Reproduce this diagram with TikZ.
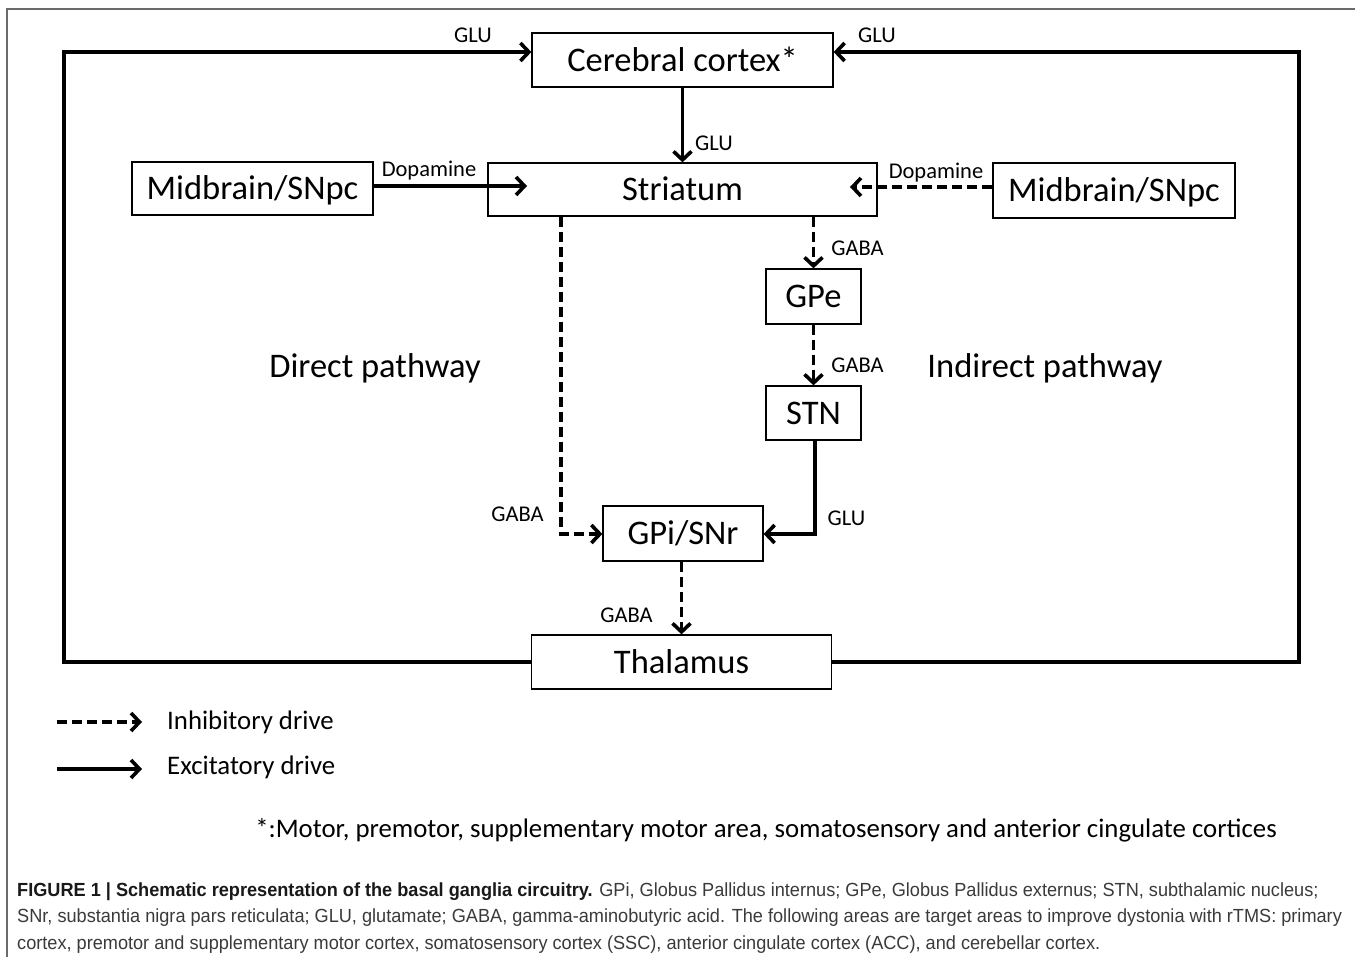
\documentclass[tikz,border=0pt]{standalone}
\usepackage{fontspec}
\setmainfont{Carlito}
\newfontfamily\capfont[FakeStretch=0.955]{Liberation Sans}
\usetikzlibrary{arrows.meta}
\definecolor{capgray}{HTML}{3A3A3A}
\definecolor{framegray}{HTML}{6A6A6A}
\begin{document}
\begin{tikzpicture}[x=1pt,y=-1pt,
  box/.style={draw, line width=1.3pt, inner sep=0pt, text height=25.6pt, text depth=3.4pt,
    font=\fontsize{34.5}{38}\selectfont},
  lab/.style={inner sep=0pt, text height=14.5pt, text depth=0pt, font=\fontsize{22.5}{26}\selectfont},
  big/.style={inner sep=0pt, text height=22.2pt, text depth=0pt, font=\fontsize{34.5}{38}\selectfont},
  leg/.style={inner sep=0pt, anchor=west, text height=17.3pt, text depth=0pt, font=\fontsize{26.8}{30}\selectfont},
  exc/.style={line width=3.6pt, -{Straight Barb[length=8.5pt,width=18pt]}},
  inh/.style={exc, dash pattern=on 10pt off 5pt},
  capline/.style={inner sep=0pt, anchor=base west, text=capgray, font=\capfont\fontsize{19}{22}\selectfont}]
\useasboundingbox (0,0) rectangle (1355,957);
% frame
\draw[framegray, line width=1.5pt] (7,957) -- (7,9) -- (1355,9);
% boxes
\node[box, minimum width=301pt, minimum height=54pt] (cortex) at (682.5,60) {Cerebral cortex*};
\node[box, minimum width=389pt, minimum height=53pt] (striatum) at (682.5,189.5) {Striatum};
\node[box, minimum width=241pt, minimum height=53pt] (midL) at (252.5,188.5) {Midbrain/SNpc};
\node[box, minimum width=242pt, minimum height=55pt] (midR) at (1114,190.5) {Midbrain/SNpc};
\node[box, minimum width=95pt, minimum height=55pt] (gpe) at (813.5,296.5) {GPe};
\node[box, minimum width=95pt, minimum height=54pt] (stn) at (813.5,413) {STN};
\node[box, minimum width=160pt, minimum height=55pt] (gpi) at (683,533.5) {GPi/SNr};
\node[box, minimum width=300pt, minimum height=54pt] (thal) at (681.5,662) {Thalamus};
% coordinates
\coordinate (lt) at (64,52);
\coordinate (rt) at (1299,52);
\coordinate (dl) at (527,186);
\coordinate (dr) at (850,187);
\coordinate (dk) at (561,534);
\coordinate (sk) at (815,534);
% connectors
\draw[exc] (thal.west) -| (lt) -- (lt -| cortex.west);
\draw[exc] (thal.east) -| (rt) -- (rt -| cortex.east);
\draw[exc] (cortex.south) -- (striatum.north);
\draw[exc] (midL.east |- dl) -- (dl);
\draw[inh] (midR.west |- dr) -- (dr);
\draw[inh] (striatum.south -| dk) -- (dk) -- (gpi.west |- dk);
\draw[inh] (striatum.south -| gpe.north) -- (gpe.north);
\draw[inh] (gpe.south) -- (stn.north);
\draw[exc] (stn.south -| sk) -- (sk) -- (gpi.east |- sk);
\draw[inh] (gpi.south -| thal.north) -- (thal.north);
% labels
\node[lab] (l1) at (473,35) {GLU};
\node[lab] (l2) at (877,35) {GLU};
\node[lab] (l3) at (714,143) {GLU};
\node[lab] (l4) at (429,169) {Dopamine};
\node[lab] (l5) at (936,171) {Dopamine};
\node[lab] (l6) at (857.5,248) {GABA};
\node[lab] (l7) at (857.5,365) {GABA};
\node[lab] (l8) at (517.5,514) {GABA};
\node[lab] (l9) at (846.5,518) {GLU};
\node[lab] (l10) at (626.5,615) {GABA};
\node[big] (dp) at (375,366) {Direct pathway};
\node[big] (ip) at (1045,366) {Indirect pathway};
% legend
\coordinate (la1) at (57,722);
\coordinate (la2) at (142,722);
\coordinate (lb1) at (57,769);
\coordinate (lb2) at (142,769);
\draw[inh] (la1) -- (la2);
\draw[exc] (lb1) -- (lb2);
\node[leg] (inhl) at (167,721) {Inhibitory drive};
\node[leg] (excl) at (167,766) {Excitatory drive};
\node[leg, anchor=center] (foot) at (766,829) {*:Motor, premotor, supplementary motor area, somatosensory and anterior cingulate cortices};
% caption
\node[capline] (c1) at (17,896) {\textbf{\color{black!90}FIGURE 1 \textbar\ Schematic representation of the basal ganglia circuitry.} GPi, Globus Pallidus internus; GPe, Globus Pallidus externus; STN, subthalamic nucleus;};
\node[capline] (c2) at (17,922.5) {SNr, substantia nigra pars reticulata; GLU, glutamate; GABA, gamma-aminobutyric acid. The following areas are target areas to improve dystonia with rTMS: primary};
\node[capline] (c3) at (17,949) {cortex, premotor and supplementary motor cortex, somatosensory cortex (SSC), anterior cingulate cortex (ACC), and cerebellar cortex.};
\end{tikzpicture}
\end{document}
